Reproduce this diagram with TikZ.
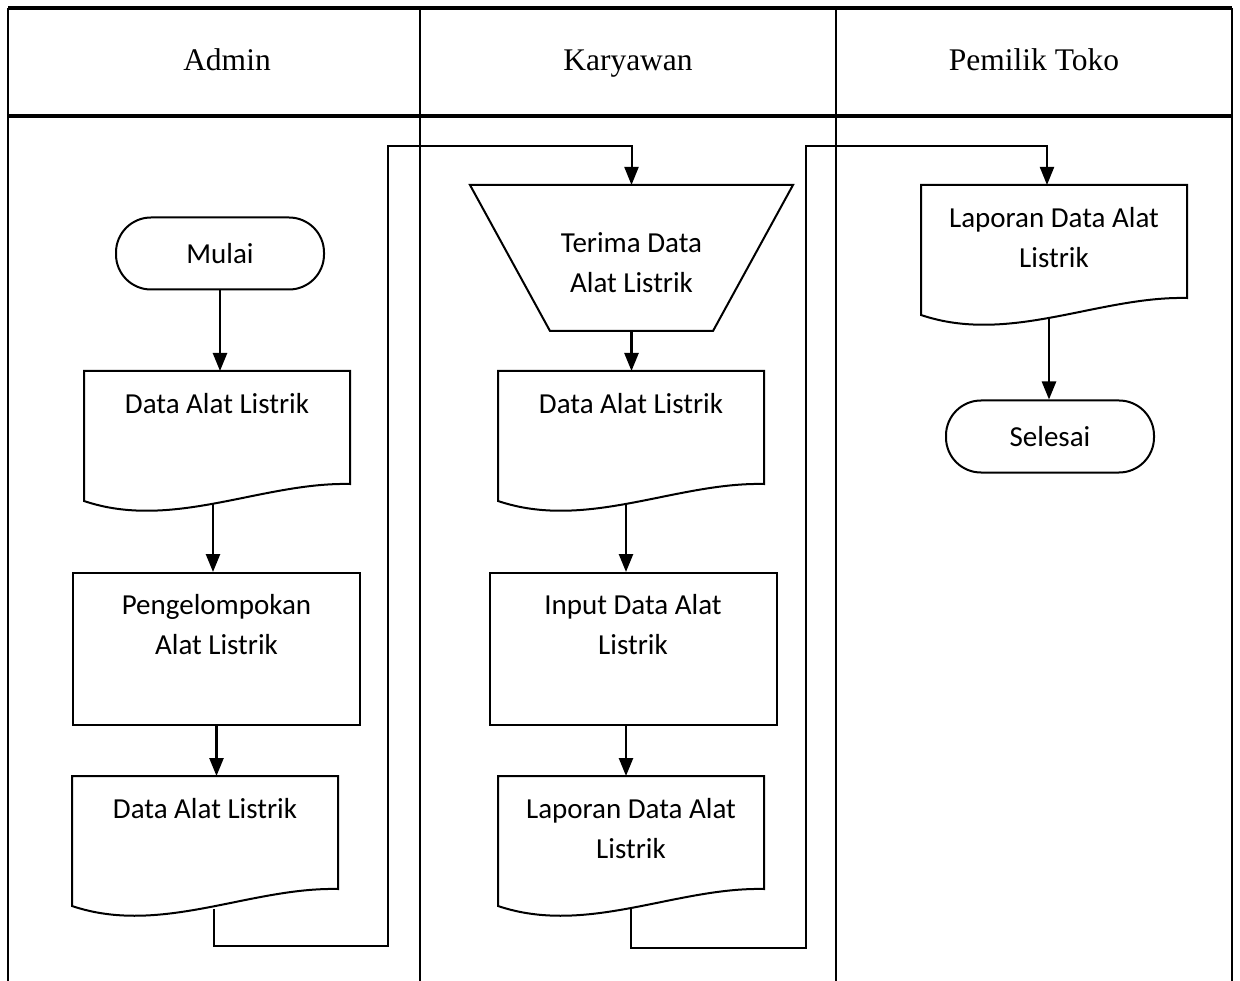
\documentclass[tikz,border=0pt]{standalone}
\usepackage{fontspec}
\setmainfont{Liberation Serif}
\newfontfamily\boxfont{Carlito}
\usetikzlibrary{positioning}
\usetikzlibrary{calc}
\usetikzlibrary{arrows.meta}

% outline of a document symbol drawn round a node
\newcommand{\docoutline}[1]{%
	\draw (#1.north west) -- (#1.north east) -- ($(#1.south east)+(0,-17)$)
	.. controls ($(#1.south west)!0.667!(#1.south east)+(0,-19)$) and ($(#1.south west)!0.333!(#1.south east)+(0,30)$) .. (#1.south west) -- cycle;}

\begin{document}
\begin{tikzpicture}[x=1pt,y=-1pt,line width=2pt,>={Triangle[length=18pt,width=14pt]},
	doc node/.style={minimum width=264,minimum height=128,inner sep=0},
	proc node/.style={draw,minimum width=287,minimum height=152,inner sep=0},
	term node/.style={draw,rounded corners=35,minimum width=208,minimum height=72,inner sep=0,font=\boxfont\fontsize{29}{40}\selectfont},
	box text/.style={anchor=north,yshift=-21,inner sep=0,align=center,font=\boxfont\fontsize{29}{40}\selectfont},
	lane head/.style={anchor=base,font=\fontsize{31.5}{38}\selectfont},
	flow/.style={->,line width=2.5pt}]
	
	\useasboundingbox (0,0) rectangle (1240,981);
	
	% swimlane table
	\draw[line width=4pt] (8,8) -- (1232,8);
	\draw[line width=3.5pt] (8,116) -- (1232,116);
	\foreach \lx in {8,420,836,1232}
		\draw (\lx,8) -- (\lx,981);
	
	\node[lane head] (hAdmin) at (227,71) {Admin};
	\node[lane head] (hKaryawan) at (628,71) {Karyawan};
	\node[lane head] (hPemilik) at (1034,71) {Pemilik Toko};
	
	% Admin
	\node[term node] (mulai) at (220,253.5) {Mulai};
	\node[doc node,label={[box text]north:Data Alat Listrik}] (d1) at (217,436) {};
	\node[proc node,label={[box text]north:Pengelompokan\\Alat Listrik}] (p1) at (216.5,649) {};
	\node[doc node,label={[box text]north:Data Alat Listrik}] (d2) at (205,841) {};
	
	% Karyawan
	\node[minimum width=321,minimum height=144,inner sep=0,align=center,
		font=\boxfont\fontsize{29}{40}\selectfont] (terima) at (631.5,258) {};
	\node[align=center,inner sep=0,font=\boxfont\fontsize{29}{40}\selectfont]
		(terimaText) at ([yshift=-5]terima.center) {Terima Data\\Alat Listrik};
	\node[doc node,label={[box text]north:Data Alat Listrik}] (d3) at (631,436) {};
	\node[proc node,label={[box text]north:Input Data Alat\\Listrik}] (p2) at (633,649) {};
	\node[doc node,label={[box text]north:Laporan Data Alat\\Listrik}] (d4) at (631,841) {};
	
	% Pemilik Toko
	\node[doc node,label={[box text]north:Laporan Data Alat\\Listrik}] (d5) at (1054,250) {};
	\node[term node] (selesai) at (1050,436.5) {Selesai};
	
	\draw (terima.north west) -- (terima.north east) -- ($(terima.south east)+(-80,0)$)
		-- ($(terima.south west)+(80,0)$) -- cycle;
	\docoutline{d1}
	\docoutline{d2}
	\docoutline{d3}
	\docoutline{d4}
	\docoutline{d5}
	
	\coordinate (c1) at (388,146);
	\coordinate (c2) at (806,146);
	
	\draw[flow] (mulai.south) -- (mulai.south |- d1.north);
	\draw[flow] ($(d1.south)+(-4,3)$) -- ($(d1.south |- p1.north)+(-4,0)$);
	\draw[flow] (p1.south) -- (p1.south |- d2.north);
	\draw[flow] (terima.south) -- (terima.south |- d3.north);
	\draw[flow] ($(d3.south)+(-5,3)$) -- ($(d3.south |- p2.north)+(-5,0)$);
	\draw[flow] ($(p2.south)+(-7,0)$) -- ($(p2.south |- d4.north)+(-7,0)$);
	\draw[flow] ($(d5.south)+(-5,3)$) -- ($(d5.south |- selesai.north)+(-5,0)$);
	
	\draw[->] ($(d2.south)+(9,3)$) -- ++(0,37) -| (c1) -| (terima.north);
	\draw[->] ($(d4.south)+(0,3)$) -- ++(0,39) -| (c2) -| ([xshift=-7]d5.north);
\end{tikzpicture}
\end{document}
